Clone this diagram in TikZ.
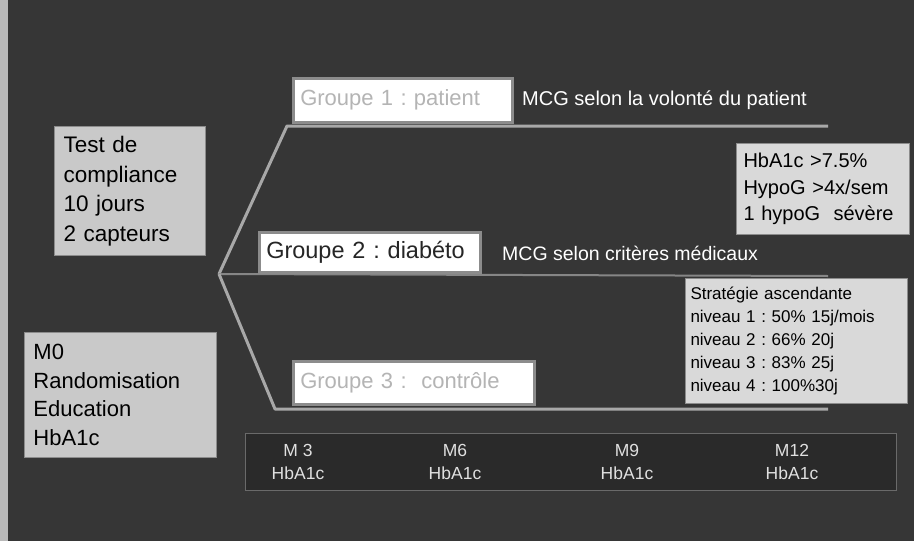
\documentclass[tikz,border=0pt]{standalone}
\usepackage{fontspec}
\setmainfont{Liberation Sans}
\frenchspacing
\definecolor{bgdark}{HTML}{363636}
\definecolor{banddark}{HTML}{2A2A2A}
\definecolor{boxfill}{HTML}{C9C9C9}
\definecolor{critfill}{HTML}{D9D9D9}
\definecolor{grpline}{HTML}{8C8C8C}
\definecolor{branch}{HTML}{A8A8A8}
\definecolor{paletext}{HTML}{B4B4B4}

\begin{document}
\begin{tikzpicture}[x=1pt,y=-1pt,
    greybox/.style={draw=grpline,line width=1pt,fill=boxfill,align=left,
      anchor=north west,inner xsep=9pt,inner ysep=0pt},
    groupbox/.style={draw=grpline,line width=2.5pt,fill=white,align=left,
      anchor=north west,inner xsep=7pt,inner ysep=0pt},
    note/.style={text=white,anchor=west,inner sep=0pt},
    month/.style={text=white!88!black,align=center,inner sep=0pt,
      font=\fontsize{17.5}{23}\selectfont}]
    % background
    \useasboundingbox (0,0) rectangle (914,541);
    \fill[bgdark] (0,0) rectangle (914,541);
    \fill[gray!55] (0,0) rectangle (8,541);
    \draw[banddark!70!white,fill=banddark] (245,433) rectangle (896,490);

    % left boxes
    \node[greybox,text width=133pt,minimum height=129pt,
      font=\fontsize{22.5}{29.5}\selectfont] (test) at (54,126)
      {Test de\\compliance\\10 jours\\2 capteurs};
    \node[greybox,text width=174pt,minimum height=125pt,
      font=\fontsize{22}{28.7}\selectfont] (rando) at (24,332)
      {M0\\Randomisation\\Education\\HbA1c};

    % branches
    \coordinate (split) at (219,274);
    \coordinate (c1) at (287,126);
    \coordinate (e1) at (828,126);
    \coordinate (e2) at (828,276);
    \coordinate (c3) at (275,409);
    \coordinate (e3) at (828,409);
    \draw[branch,line width=3pt,line join=round] (split) -- (c1) -- (e1);
    \draw[branch!70!bgdark,line width=2pt] (split) -- (e2);
    \draw[branch,line width=3pt,line join=round] (split) -- (c3) -- (e3);

    % groups
    \node[groupbox,text=paletext,text width=205pt,minimum height=44pt,
      font=\fontsize{22}{24}\selectfont] (g1) at (292,77) {Groupe 1 : patient};
    \node[groupbox,text=black!85,text width=207pt,minimum height=40pt,
      font=\fontsize{23.5}{26}\selectfont] (g2) at (258,231) {Groupe 2 : diabéto};
    \node[groupbox,text=paletext,text width=227pt,minimum height=43pt,
      font=\fontsize{22}{24}\selectfont] (g3) at (292,360) {Groupe 3 :\ \ contrôle};
    \node[note,font=\fontsize{20}{22}\selectfont] (n1) at (522,100)
      {MCG selon la volonté du patient};
    \node[note,font=\fontsize{19.5}{22}\selectfont] (n2) at (502,253)
      {MCG selon critères médicaux};

    % criteria
    \node[greybox,fill=critfill,inner xsep=7pt,text width=159pt,minimum height=91pt,
      font=\fontsize{20}{26.5}\selectfont] (crit) at (736,143)
      {HbA1c >7.5\%\\HypoG >4x/sem\\1 hypoG\ \ sévère};
    \node[greybox,fill=critfill,inner xsep=5pt,text width=212pt,minimum height=125pt,
      font=\fontsize{17}{23}\selectfont] (strat) at (685,278)
      {Stratégie ascendante\\niveau 1 : 50\% 15j/mois\\niveau 2 : 66\% 20j\\
       niveau 3 : 83\% 25j\\niveau 4 : 100\%30j};

    % timeline
    \node[month] (m3) at (298,462) {M 3\\HbA1c};
    \node[month] (m6) at (455,462) {M6\\HbA1c};
    \node[month] (m9) at (627,462) {M9\\HbA1c};
    \node[month] (m12) at (792,462) {M12\\HbA1c};
\end{tikzpicture}
\end{document}
